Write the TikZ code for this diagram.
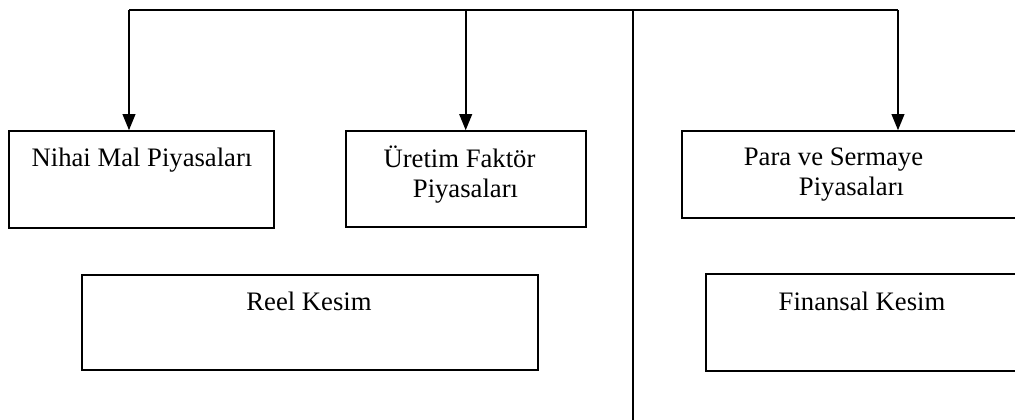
\documentclass[tikz,border=0pt]{standalone}
\usepackage{fontspec}
\setmainfont{Liberation Serif}
\usetikzlibrary{arrows.meta}
\begin{document}
\begin{tikzpicture}[x=0.75pt,y=-0.75pt,
  box/.style={draw=black,line width=1.2pt,rectangle,inner sep=0pt},
  lbl/.style={font=\fontsize{20pt}{22.5pt}\selectfont,align=center,anchor=base,inner sep=0pt},
  link/.style={line width=1.2pt},
  arr/.style={line width=1.2pt,-{Triangle[width=9.5pt,length=12pt]}}]
\useasboundingbox (0,0) rectangle (1015,419);
% boxes
\node[box,minimum width=265*0.75pt,minimum height=97*0.75pt] (nihai) at (141.5,179.5) {};
\node[box,minimum width=240*0.75pt,minimum height=96*0.75pt] (uretim) at (466,179) {};
\node[box,minimum width=335*0.75pt,minimum height=87*0.75pt] (para) at (849.5,174.5) {};
\node[box,minimum width=456*0.75pt,minimum height=95*0.75pt] (reel) at (310,322.5) {};
\node[box,minimum width=311*0.75pt,minimum height=97*0.75pt] (finansal) at (861.5,322.5) {};
% labels (base anchor = last line)
\node[lbl] (tnihai) at (142,166.5) {Nihai Mal Piyasaları};
\node[lbl] (turetim) at (465.5,197) {Üretim Faktör\hspace*{9pt}\\Piyasaları};
\node[lbl] (tpara) at (851.5,195.5) {Para ve Sermaye\hspace*{27pt}\\Piyasaları};
\node[lbl] (treel) at (309,310) {Reel Kesim};
\node[lbl] (tfinansal) at (862,310) {Finansal Kesim};
% connectors
\coordinate (topL) at (129,10);
\coordinate (topM) at (465.7,10);
\coordinate (topR) at (898,10);
\coordinate (divtop) at (633,10);
\coordinate (divbot) at (633,422);
\draw[link] (topL) -- (topR);
\draw[link] (divtop) -- (divbot);
\draw[arr] (topL) -- (topL |- nihai.north);
\draw[arr] (topM) -- (topM |- uretim.north);
\draw[arr] (topR) -- (topR |- para.north);
\end{tikzpicture}
\end{document}
